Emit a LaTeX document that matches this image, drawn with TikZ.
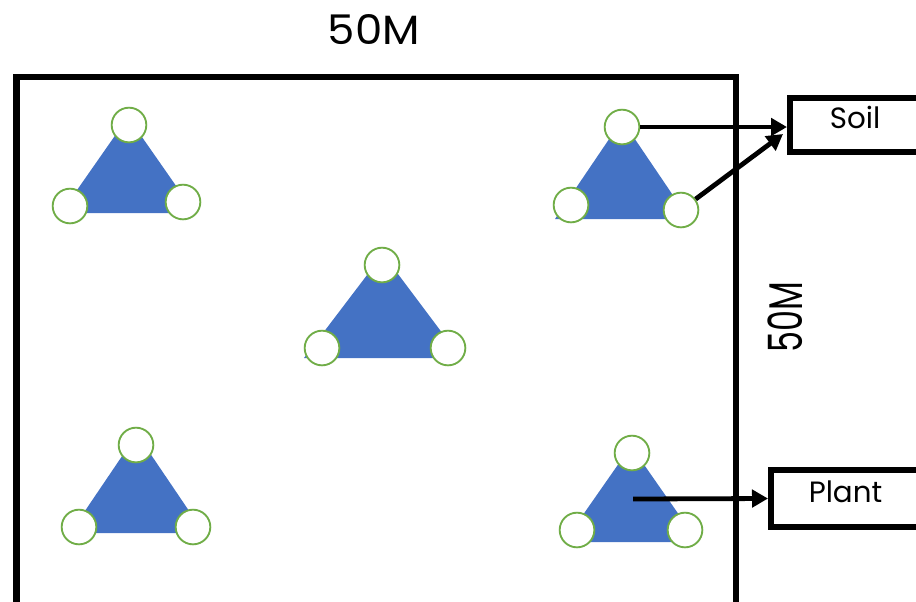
\documentclass[tikz,border=0pt]{standalone}
\usepackage{fontspec}
\setmainfont{Poppins}
\usetikzlibrary{arrows.meta,calc}
\definecolor{triblue}{HTML}{4472C4}
\definecolor{ringgreen}{HTML}{70AD47}
\begin{document}
\begin{tikzpicture}[x=0.75pt,y=-0.75pt,
  tri/.style={fill=triblue},
  post/.style={circle,draw=ringgreen,line width=1.4pt,fill=white,minimum size=26pt,inner sep=0pt},
  plot/.style={line width=5pt},
  tag/.style={draw,line width=4.5pt,inner sep=0pt,font=\fontsize{22}{24}\selectfont},
  link/.style={line width=3.6pt,-{Triangle[length=12pt,width=13pt]}},
  dim/.style={inner sep=0pt}
]
\useasboundingbox (0,0) rectangle (916,601);

% plot boundary (bottom edge runs off the page)
\draw[plot] (16.5,77) rectangle (736,640);

% side dimensions
\node[dim] (top) at (374,30) {\resizebox{69pt}{22.5pt}{50M}};
\node[dim,rotate=90] (side) at (785,317) {\resizebox{53pt}{26pt}{50M}};

% sampling triangles
\fill[tri] (128,117) -- (195,213) -- (61,213) -- cycle;
\fill[tri] (622,120) -- (689,219) -- (555,219) -- cycle;
\fill[tri] (383,254) -- (461,358) -- (304,358) -- cycle;
\fill[tri] (137,434) -- (204,533) -- (70,533) -- cycle;
\fill[tri] (631,446) -- (698,542) -- (564,542) -- cycle;

% sampling points at the corners
\node[post] (t1a) at (129,125) {};
\node[post] (t1b) at (70,206) {};
\node[post] (t1c) at (183,202) {};

\node[post] (t2a) at (622,127) {};
\node[post] (t2b) at (571,205) {};
\node[post] (t2c) at (681,210) {};

\node[post] (t3a) at (382,265) {};
\node[post] (t3b) at (322,348) {};
\node[post] (t3c) at (448,348) {};

\node[post] (t4a) at (136,445) {};
\node[post] (t4b) at (79,527) {};
\node[post] (t4c) at (193,527) {};

\node[post] (t5a) at (632,453) {};
\node[post] (t5b) at (577,530) {};
\node[post] (t5c) at (685,530) {};
\coordinate (t5mid) at (633,499);

% sample type boxes
\node[tag,minimum width=97.5pt,minimum height=40.5pt] (soil) at (855,125)
  {\raisebox{6pt}[\height][\depth]{Soil}};
\node[tag,minimum width=111.75pt,minimum height=42.75pt] (plant) at (845.5,498.5)
  {\raisebox{5pt}[\height][\depth]{Plant}};

% connectors
\draw[link] (t2a) -- (t2a -| soil.west);
\draw[link] (t2c) -- ($(soil.west)+(-4,9)$);
\draw[link] (t5mid) -- (plant.west);
\end{tikzpicture}
\end{document}
